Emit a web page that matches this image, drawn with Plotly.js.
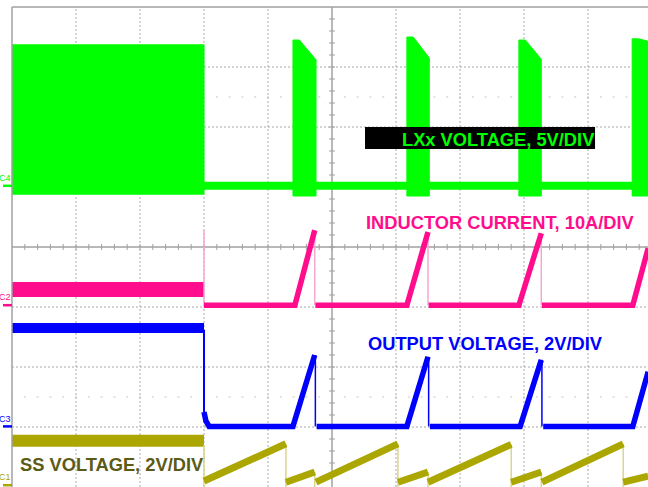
<!DOCTYPE html>
<html>
<head>
<meta charset="utf-8">
<script src="https://cdn.plot.ly/plotly-3.0.1.min.js"></script>
<style>html,body{margin:0;padding:0;background:#fff;}#chart{width:648px;height:487px;}</style>
</head>
<body>
<div id="chart"></div>
<script>
// Units: time in screen divisions (10 div across), level in divisions from bottom (8 div high)

// C4 - LXx voltage: switching bursts (dense switching appears as filled block)
const lxBurstStart = [0.00, 4.39, 6.17, 7.92, 9.69];
const lxBurstEnd   = [3.00, 4.75, 6.52, 8.27, 10.05];
const lxBurstTopStart = [7.37, 7.45, 7.50, 7.45, 7.47];
const lxBurstTopEnd   = [7.37, 7.12, 7.15, 7.13, 7.40];
const lxBurstFloor = [4.88, 4.85, 4.85, 4.85, 4.85];
const lxIdleTime  = [3.00, 9.94];
const lxIdleLevel = [5.02, 5.02];

// C2 - inductor current
const ilPreTime  = [0.00, 3.00];
const ilPreLevel = [3.29, 3.29];
const ilStartSpike = [4.27, 3.00];
const ilBase = 3.03;
const ilRampStart = [4.42, 6.17, 7.92, 9.70];
const ilRampEnd   = [4.73, 6.50, 8.27, 9.94];
const ilRampPeak  = [4.28, 4.25, 4.23, 3.98];

// C3 - output voltage
const voPreTime  = [0.00, 3.00];
const voPreLevel = [2.65, 2.65];
const voDropTime  = [3.00, 3.00, 3.03, 3.08];
const voDropLevel = [2.62, 1.25, 1.10, 1.01];
const voBase = 1.01;
const voRampStart = [4.39, 6.17, 7.94, 9.70];
const voRampEnd   = [4.73, 6.50, 8.27, 9.94];
const voRampPeak  = [2.20, 2.17, 2.12, 1.92];

// C1 - soft-start voltage
const ssPreTime  = [0.00, 3.00];
const ssPreLevel = [0.77, 0.77];
const ssRampStart = [3.00, 4.28, 4.75, 6.03, 6.50, 7.80, 8.28, 9.55];
const ssRampEnd   = [4.28, 4.73, 6.03, 6.50, 7.80, 8.27, 9.55, 9.94];
const ssRampFrom  = [0.10, 0.08, 0.08, 0.08, 0.08, 0.08, 0.08, 0.08];
const ssRampTo    = [0.72, 0.25, 0.72, 0.25, 0.71, 0.25, 0.72, 0.18];

// labels
const chanNames  = ['C4', 'C2', 'C3', 'C1'];
const chanGround = [5.02, 3.03, 1.01, 0.03];
const traceLabels = ['LXx VOLTAGE, 5V/DIV', 'INDUCTOR CURRENT, 10A/DIV', 'OUTPUT VOLTAGE, 2V/DIV', 'SS VOLTAGE, 2V/DIV'];

const GREEN = '#00ff00', PINK = '#ff0d8c', BLUE = '#0000ff', OLIVE = '#aba700';
const PINK_L = '#f7a6cd', OLIVE_L = '#d8d68c';
const chanColors = [GREEN, PINK, BLUE, OLIVE];

function ln(x, y, color, width) {
  return {type: 'scatter', mode: 'lines', x: x, y: y, line: {color: color, width: width},
          hoverinfo: 'skip', showlegend: false, connectgaps: false};
}

const traces = [];
// green bursts
for (let i = 0; i < lxBurstStart.length; i++) {
  const s = lxBurstStart[i], e = lxBurstEnd[i];
  traces.push({type: 'scatter', mode: 'lines', fill: 'toself', fillcolor: GREEN,
    x: [s, s, s + 0.1, e, e, s], y: [lxBurstFloor[i], lxBurstTopStart[i], lxBurstTopStart[i], lxBurstTopEnd[i], lxBurstFloor[i], lxBurstFloor[i]],
    line: {color: GREEN, width: 1}, hoverinfo: 'skip', showlegend: false});
}
traces.push(ln(lxIdleTime, lxIdleLevel, GREEN, 8));

// pink
traces.push(ln(ilPreTime, ilPreLevel, PINK, 15));
traces.push(ln([3.0, 3.0], ilStartSpike, PINK_L, 1.5));
(function () {
  const x = [3.0], y = [ilBase], dx = [], dy = [];
  for (let i = 0; i < ilRampStart.length; i++) {
    x.push(ilRampStart[i], ilRampEnd[i], null);
    y.push(ilBase, ilRampPeak[i], null);
    if (i < ilRampStart.length - 1) {
      x.push(ilRampEnd[i] + 0.01); y.push(ilBase);
      dx.push(ilRampEnd[i], ilRampEnd[i], null); dy.push(ilRampPeak[i], ilBase, null);
    }
  }
  traces.push(ln(dx, dy, PINK_L, 1.5));
  traces.push(ln(x, y, PINK, 5.5));
})();

// blue
traces.push(ln(voPreTime, voPreLevel, BLUE, 10));
traces.push(ln(voDropTime.slice(0, 2), voDropLevel.slice(0, 2), BLUE, 2));
(function () {
  const x = voDropTime.slice(1), y = voDropLevel.slice(1), dx = [], dy = [];
  for (let i = 0; i < voRampStart.length; i++) {
    x.push(voRampStart[i], voRampEnd[i], null);
    y.push(voBase, voRampPeak[i], null);
    if (i < voRampStart.length - 1) {
      x.push(voRampEnd[i] + 0.03); y.push(voBase);
      dx.push(voRampEnd[i] + 0.01, voRampEnd[i] + 0.01, null); dy.push(voRampPeak[i], voBase, null);
    }
  }
  traces.push(ln(dx, dy, BLUE, 1.5));
  traces.push(ln(x, y, BLUE, 5.5));
})();

// olive
traces.push(ln(ssPreTime, ssPreLevel, OLIVE, 12));
(function () {
  const x = [], y = [], dx = [3.0, 3.0, null], dy = [0.70, 0.0, null];
  for (let i = 0; i < ssRampStart.length; i++) {
    x.push(ssRampStart[i], ssRampEnd[i], null);
    y.push(ssRampFrom[i], ssRampTo[i], null);
    if (i < ssRampStart.length - 1) {
      dx.push(ssRampEnd[i], ssRampEnd[i], null); dy.push(ssRampTo[i], 0.0, null);
    }
  }
  traces.push(ln(dx, dy, OLIVE_L, 1.5));
  traces.push(ln(x, y, OLIVE, 7));
})();

// ---- screen decoration ----
const GRID = '#a8a8a8';
const shapes = [];
for (let k = 1; k <= 9; k++) if (k !== 5)
  shapes.push({type: 'line', xref: 'x', yref: 'paper', x0: k, x1: k, y0: 0, y1: 1, layer: 'below', line: {color: GRID, width: 1, dash: '2px,2px'}});
for (let k = 1; k <= 7; k++) if (k !== 4)
  shapes.push({type: 'line', xref: 'paper', yref: 'y', x0: 0, x1: 1, y0: k, y1: k, layer: 'below', line: {color: GRID, width: 1, dash: '2px,2px'}});
// minor tick dot rows
[1.5, 6.5].forEach(function (r) {
  shapes.push({type: 'line', xref: 'x', yref: 'y', x0: -0.015, x1: 10, y0: r, y1: r, layer: 'below', line: {color: '#c4c4c4', width: 1, dash: '2px,10.8px'}});
});
// center axes
shapes.push({type: 'line', xref: 'x', yref: 'paper', x0: 5, x1: 5, y0: 0, y1: 1, layer: 'below', line: {color: '#a0a0a0', width: 1.5}});
shapes.push({type: 'line', xref: 'paper', yref: 'y', x0: 0, x1: 1, y0: 4, y1: 4, layer: 'below', line: {color: '#a0a0a0', width: 1.5}});
for (let t = 0.2; t < 8; t += 0.2)
  shapes.push({type: 'line', xref: 'x', yref: 'y', x0: 5 - 0.047, x1: 5 + 0.047, y0: t, y1: t, layer: 'below', line: {color: '#a0a0a0', width: 1}});
for (let t = 0.2; t < 10; t += 0.2)
  shapes.push({type: 'line', xref: 'x', yref: 'y', x0: t, x1: t, y0: 4 - 0.05, y1: 4 + 0.05, layer: 'below', line: {color: '#a0a0a0', width: 1}});
// border
shapes.push({type: 'line', xref: 'paper', yref: 'paper', x0: 0, x1: 0, y0: 0, y1: 1, line: {color: '#a0a0a0', width: 1.5}});
shapes.push({type: 'line', xref: 'paper', yref: 'paper', x0: 0, x1: 1, y0: 1, y1: 1, line: {color: '#a0a0a0', width: 1.5}});
// LXx label box
shapes.push({type: 'rect', xref: 'x', yref: 'y', x0: 5.516, x1: 9.11, y0: 5.633, y1: 6.0, layer: 'above', fillcolor: '#000000', line: {width: 0}});
// channel ground markers
for (let i = 0; i < chanNames.length; i++) {
  shapes.push({type: 'line', xref: 'paper', yref: 'paper', x0: -9 / 636, x1: 0, y0: chanGround[i] / 8, y1: chanGround[i] / 8, line: {color: chanColors[i], width: 2.5}});
}

const annotations = [];
for (let i = 0; i < chanNames.length; i++) {
  annotations.push({xref: 'paper', yref: 'paper', x: 0, y: (chanGround[i] + 0.13) / 8, xanchor: 'right', yanchor: 'middle',
    xshift: 0, text: chanNames[i], showarrow: false, borderpad: 0,
    font: {family: 'Liberation Sans Narrow, Liberation Sans, sans-serif', size: 9, color: chanColors[i]}});
}
const FONT = 'Liberation Sans, Arial, sans-serif';
annotations.push({xref: 'x', yref: 'y', x: 6.06, y: 5.80, xanchor: 'left', yanchor: 'middle', showarrow: false,
  text: '<b>' + traceLabels[0] + '</b>', font: {family: FONT, size: 18.3, color: GREEN}});
annotations.push({xref: 'x', yref: 'y', x: 5.50, y: 4.405, xanchor: 'left', yanchor: 'middle', showarrow: false,
  text: '<b>' + traceLabels[1] + '</b>', font: {family: FONT, size: 18.3, color: PINK}});
annotations.push({xref: 'x', yref: 'y', x: 5.53, y: 2.40, xanchor: 'left', yanchor: 'middle', showarrow: false,
  text: '<b>' + traceLabels[2] + '</b>', font: {family: FONT, size: 18.3, color: BLUE}});
annotations.push({xref: 'x', yref: 'y', x: 0.10, y: 0.38, xanchor: 'left', yanchor: 'middle', showarrow: false,
  text: '<b>' + traceLabels[3] + '</b>', font: {family: FONT, size: 18.3, color: '#5c5b16'}});

const layout = {
  width: 648, height: 487,
  margin: {l: 12, r: 0, t: 7, b: 0, pad: 0},
  paper_bgcolor: '#ffffff', plot_bgcolor: '#ffffff',
  showlegend: false,
  xaxis: {range: [0, 636 / 64], showgrid: false, zeroline: false, showticklabels: false, ticks: '', showline: false, fixedrange: true},
  yaxis: {range: [0, 8], showgrid: false, zeroline: false, showticklabels: false, ticks: '', showline: false, fixedrange: true},
  shapes: shapes,
  annotations: annotations
};

Plotly.newPlot('chart', traces, layout, {staticPlot: true, displayModeBar: false});
</script>
</body>
</html>
